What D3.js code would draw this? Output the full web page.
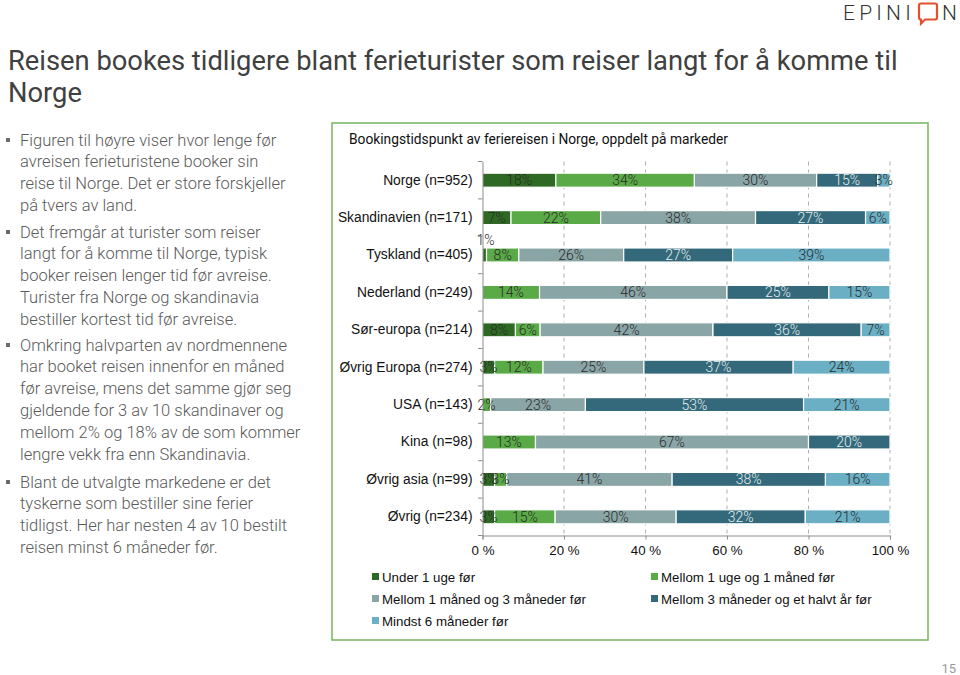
<!DOCTYPE html>
<html><head><meta charset="utf-8">
<script src="https://cdn.jsdelivr.net/npm/d3@7"></script>
<style>html,body{margin:0;padding:0;background:#fff;} svg{display:block;}</style>
</head><body>
<svg id="c" width="960" height="675"></svg>
<script>
// ---- DATA ----
const categories = ["Norge (n=952)","Skandinavien (n=171)","Tyskland (n=405)","Nederland (n=249)","Sør-europa (n=214)","Øvrig Europa (n=274)","USA (n=143)","Kina (n=98)","Øvrig asia (n=99)","Øvrig (n=234)"];
const seriesNames = ["Under 1 uge før","Mellom 1 uge og 1 måned før","Mellom 1 måned og 3 måneder før","Mellom 3 måneder og et halvt år før","Mindst 6 måneder før"];
const under1uge   = [18, 7, 1, 0, 8, 3, 0, 0, 3, 3];
const uge1maaned  = [34, 22, 8, 14, 6, 12, 2, 13, 3, 15];
const maaned1til3 = [30, 38, 26, 46, 42, 25, 23, 67, 41, 30];
const maaned3til6 = [15, 27, 27, 25, 36, 37, 53, 20, 38, 32];
const minst6      = [3, 6, 39, 15, 7, 24, 21, 0, 16, 21];
const xTicks = [0, 0.2, 0.4, 0.6, 0.8, 1];
const xTickLabels = ["0 %","20 %","40 %","60 %","80 %","100 %"];

const pageTitle = ["Reisen bookes tidligere blant ferieturister som reiser langt for å komme til","Norge"];
const chartTitle = "Bookingstidspunkt av feriereisen i Norge, oppdelt på markeder";
const bullets = [
 ["Figuren til høyre viser hvor lenge før","avreisen ferieturistene booker sin","reise til Norge. Det er store forskjeller","på tvers av land."],
 ["Det fremgår at turister som reiser","langt for å komme til Norge, typisk","booker reisen lenger tid før avreise.","Turister fra Norge og skandinavia","bestiller kortest tid før avreise."],
 ["Omkring halvparten av nordmennene","har booket reisen innenfor en måned","før avreise, mens det samme gjør seg","gjeldende for 3 av 10 skandinaver og","mellom 2% og 18% av de som kommer","lengre vekk fra enn Skandinavia."],
 ["Blant de utvalgte markedene er det","tyskerne som bestiller sine ferier","tidligst. Her har nesten 4 av 10 bestilt","reisen minst 6 måneder før."]
];

// ---- STYLE ----
const colors = ["#2f6a24","#5aab47","#8aa5a6","#33697a","#6aafc4"];
const labelColors = ["#2a2a2a","#2a2a2a","#2a2a2a","#e6eef0","#2a2a2a"];
const svg = d3.select("#c");
const bodyFont = "Roboto, 'DejaVu Sans', sans-serif";
const arial = "'Liberation Sans', Arial, sans-serif";

// ---- Left text ----
const t1 = svg.append("text").attr("x",8).attr("y",70).attr("fill","#404040")
  .attr("font-family",bodyFont).attr("font-weight",400).attr("font-size",26).text(pageTitle[0]);
const w1 = t1.node().getComputedTextLength();
const titleSize = 26*890/w1;
t1.attr("font-size",titleSize);
svg.append("text").attr("x",8).attr("y",102).attr("fill","#404040")
  .attr("font-family",bodyFont).attr("font-weight",400).attr("font-size",titleSize).text(pageTitle[1]);

// measure body size
const probe = svg.append("text").attr("font-family",bodyFont).attr("font-weight",300).attr("font-size",15).text(bullets[0][2]);
const bodySize = 15*266/probe.node().getComputedTextLength();
probe.remove();
const bulletStarts = [140, 232, 345, 482];
const lh = 21.8;
bullets.forEach((lines,bi)=>{
  const y0 = bulletStarts[bi];
  svg.append("rect").attr("x",6).attr("y",y0-2).attr("width",4).attr("height",4).attr("fill","#6b6b6b");
  lines.forEach((ln,li)=>{
    svg.append("text").attr("x",20).attr("y",y0+li*lh+5.5).attr("fill","#5a5a5a")
      .attr("font-family",bodyFont).attr("font-weight",300).attr("font-size",bodySize).text(ln);
  });
});

// ---- Logo ----
const logo = svg.append("g");
logo.append("text").attr("x",843).attr("y",20).attr("font-family",bodyFont).attr("font-weight",300)
  .attr("font-size",21).attr("letter-spacing",4.2).attr("fill","#333").text("EPINI");
logo.append("path").attr("d","M921,3.5 h14 a2,2 0 0 1 2,2 v12 a2,2 0 0 1 -2,2 h-10 l-4,4 v-4 a2,2 0 0 1 -2,-2 v-12 a2,2 0 0 1 2,-2 z")
  .attr("fill","none").attr("stroke","#e2502f").attr("stroke-width",2.2);
logo.append("text").attr("x",942).attr("y",20).attr("font-family",bodyFont).attr("font-weight",300)
  .attr("font-size",21).attr("fill","#333").text("N");

// page number
svg.append("text").attr("x",956).attr("y",673).attr("text-anchor","end").attr("font-family",bodyFont)
  .attr("font-size",13).attr("fill","#9a9a9a").text("15");

// ---- Chart box ----
svg.append("rect").attr("x",332).attr("y",123).attr("width",596).attr("height",517)
  .attr("fill","#fff").attr("stroke","#7dba66").attr("stroke-width",1.6);
const ct = svg.append("text").attr("x",349).attr("y",144).attr("font-family",bodyFont)
  .attr("font-size",13).attr("fill","#111").text(chartTitle);
ct.attr("font-size",13*379/ct.node().getComputedTextLength());

const x = d3.scaleLinear().domain([0,1]).range([482.5,890]);
const y = d3.scaleBand().domain(categories).range([161.5,535.5]).paddingInner(0.625).paddingOuter(0.3125);

// gridlines
const grid = svg.append("g");
grid.selectAll("line").data(xTicks.slice(1)).join("line")
  .attr("x1",d=>x(d)).attr("x2",d=>x(d)).attr("y1",161.5).attr("y2",535.5)
  .attr("stroke","#9a9a9a").attr("stroke-width",0.8).attr("stroke-dasharray","4,4");

// stacked data (100% stacked, normalised)
const rows = categories.map((c,i)=>({cat:c, v:[under1uge[i],uge1maaned[i],maaned1til3[i],maaned3til6[i],minst6[i]]}));
const keys = [0,1,2,3,4];
const stack = d3.stack().keys(keys).value((d,k)=>d.v[k]).offset(d3.stackOffsetExpand)(rows);

const bars = svg.append("g");
stack.forEach((layer,k)=>{
  layer.forEach(d=>d.raw = d.data.v[k]);
  const g = bars.append("g");
  g.selectAll("rect").data(layer.filter(d=>d.raw>0)).join("rect")
    .attr("x",d=>x(d[0])).attr("width",d=>x(d[1])-x(d[0]))
    .attr("y",d=>y(d.data.cat)).attr("height",y.bandwidth())
    .attr("fill",colors[k]).attr("stroke","#fff").attr("stroke-width",1.2);
});
stack.forEach((layer,k)=>{
  const g = bars.append("g");
  g.selectAll("text").data(layer.filter(d=>d.raw>0)).join("text")
    .attr("x",d=>d.raw<2 ? x(d[0])-6 : (x(d[0])+x(d[1]))/2)
    .attr("y",d=>d.raw<2 ? y(d.data.cat)-3 : y(d.data.cat)+y.bandwidth()/2+5)
    .attr("text-anchor",d=>d.raw<2?"start":"middle")
    .attr("font-family",bodyFont).attr("font-weight",300).attr("font-size",14)
    .attr("fill",d=>d.raw<2?"#2a2a2a":labelColors[k])
    .text(d=>d.raw+"%");
});

// y axis
const yAxis = svg.append("g").attr("transform","translate(482.5,0)")
  .call(d3.axisLeft(y).tickSize(0).tickPadding(10));
yAxis.select(".domain").attr("stroke","#8c8c8c");
yAxis.selectAll("text").attr("font-family",arial).attr("font-size",13.8).attr("fill","#111");
// category boundary ticks
const bounds = d3.range(categories.length+1).map(i=>161.5+i*(374/categories.length));
svg.append("g").selectAll("line").data(bounds).join("line")
  .attr("x1",478).attr("x2",482.5).attr("y1",d=>d).attr("y2",d=>d).attr("stroke","#8c8c8c");

// x axis
const xAxis = svg.append("g").attr("transform","translate(0,535.5)")
  .call(d3.axisBottom(x).tickValues(xTicks).tickFormat((d,i)=>xTickLabels[i]).tickSize(4).tickPadding(6));
xAxis.select(".domain").attr("stroke","#8c8c8c");
xAxis.selectAll(".tick line").attr("stroke","#8c8c8c");
xAxis.selectAll("text").attr("font-family",arial).attr("font-size",13.3).attr("fill","#111");

// legend
const legendPos = [[372,577],[651,577],[372,599],[651,599],[372,621]];
const lg = svg.append("g");
seriesNames.forEach((n,i)=>{
  const [lx,ly] = legendPos[i];
  lg.append("rect").attr("x",lx).attr("y",ly-4).attr("width",7).attr("height",7).attr("fill",colors[i]);
  lg.append("text").attr("x",lx+10).attr("y",ly+5).attr("font-family",arial).attr("font-size",13.3)
    .attr("fill","#111").text(n);
});
</script>
</body></html>
